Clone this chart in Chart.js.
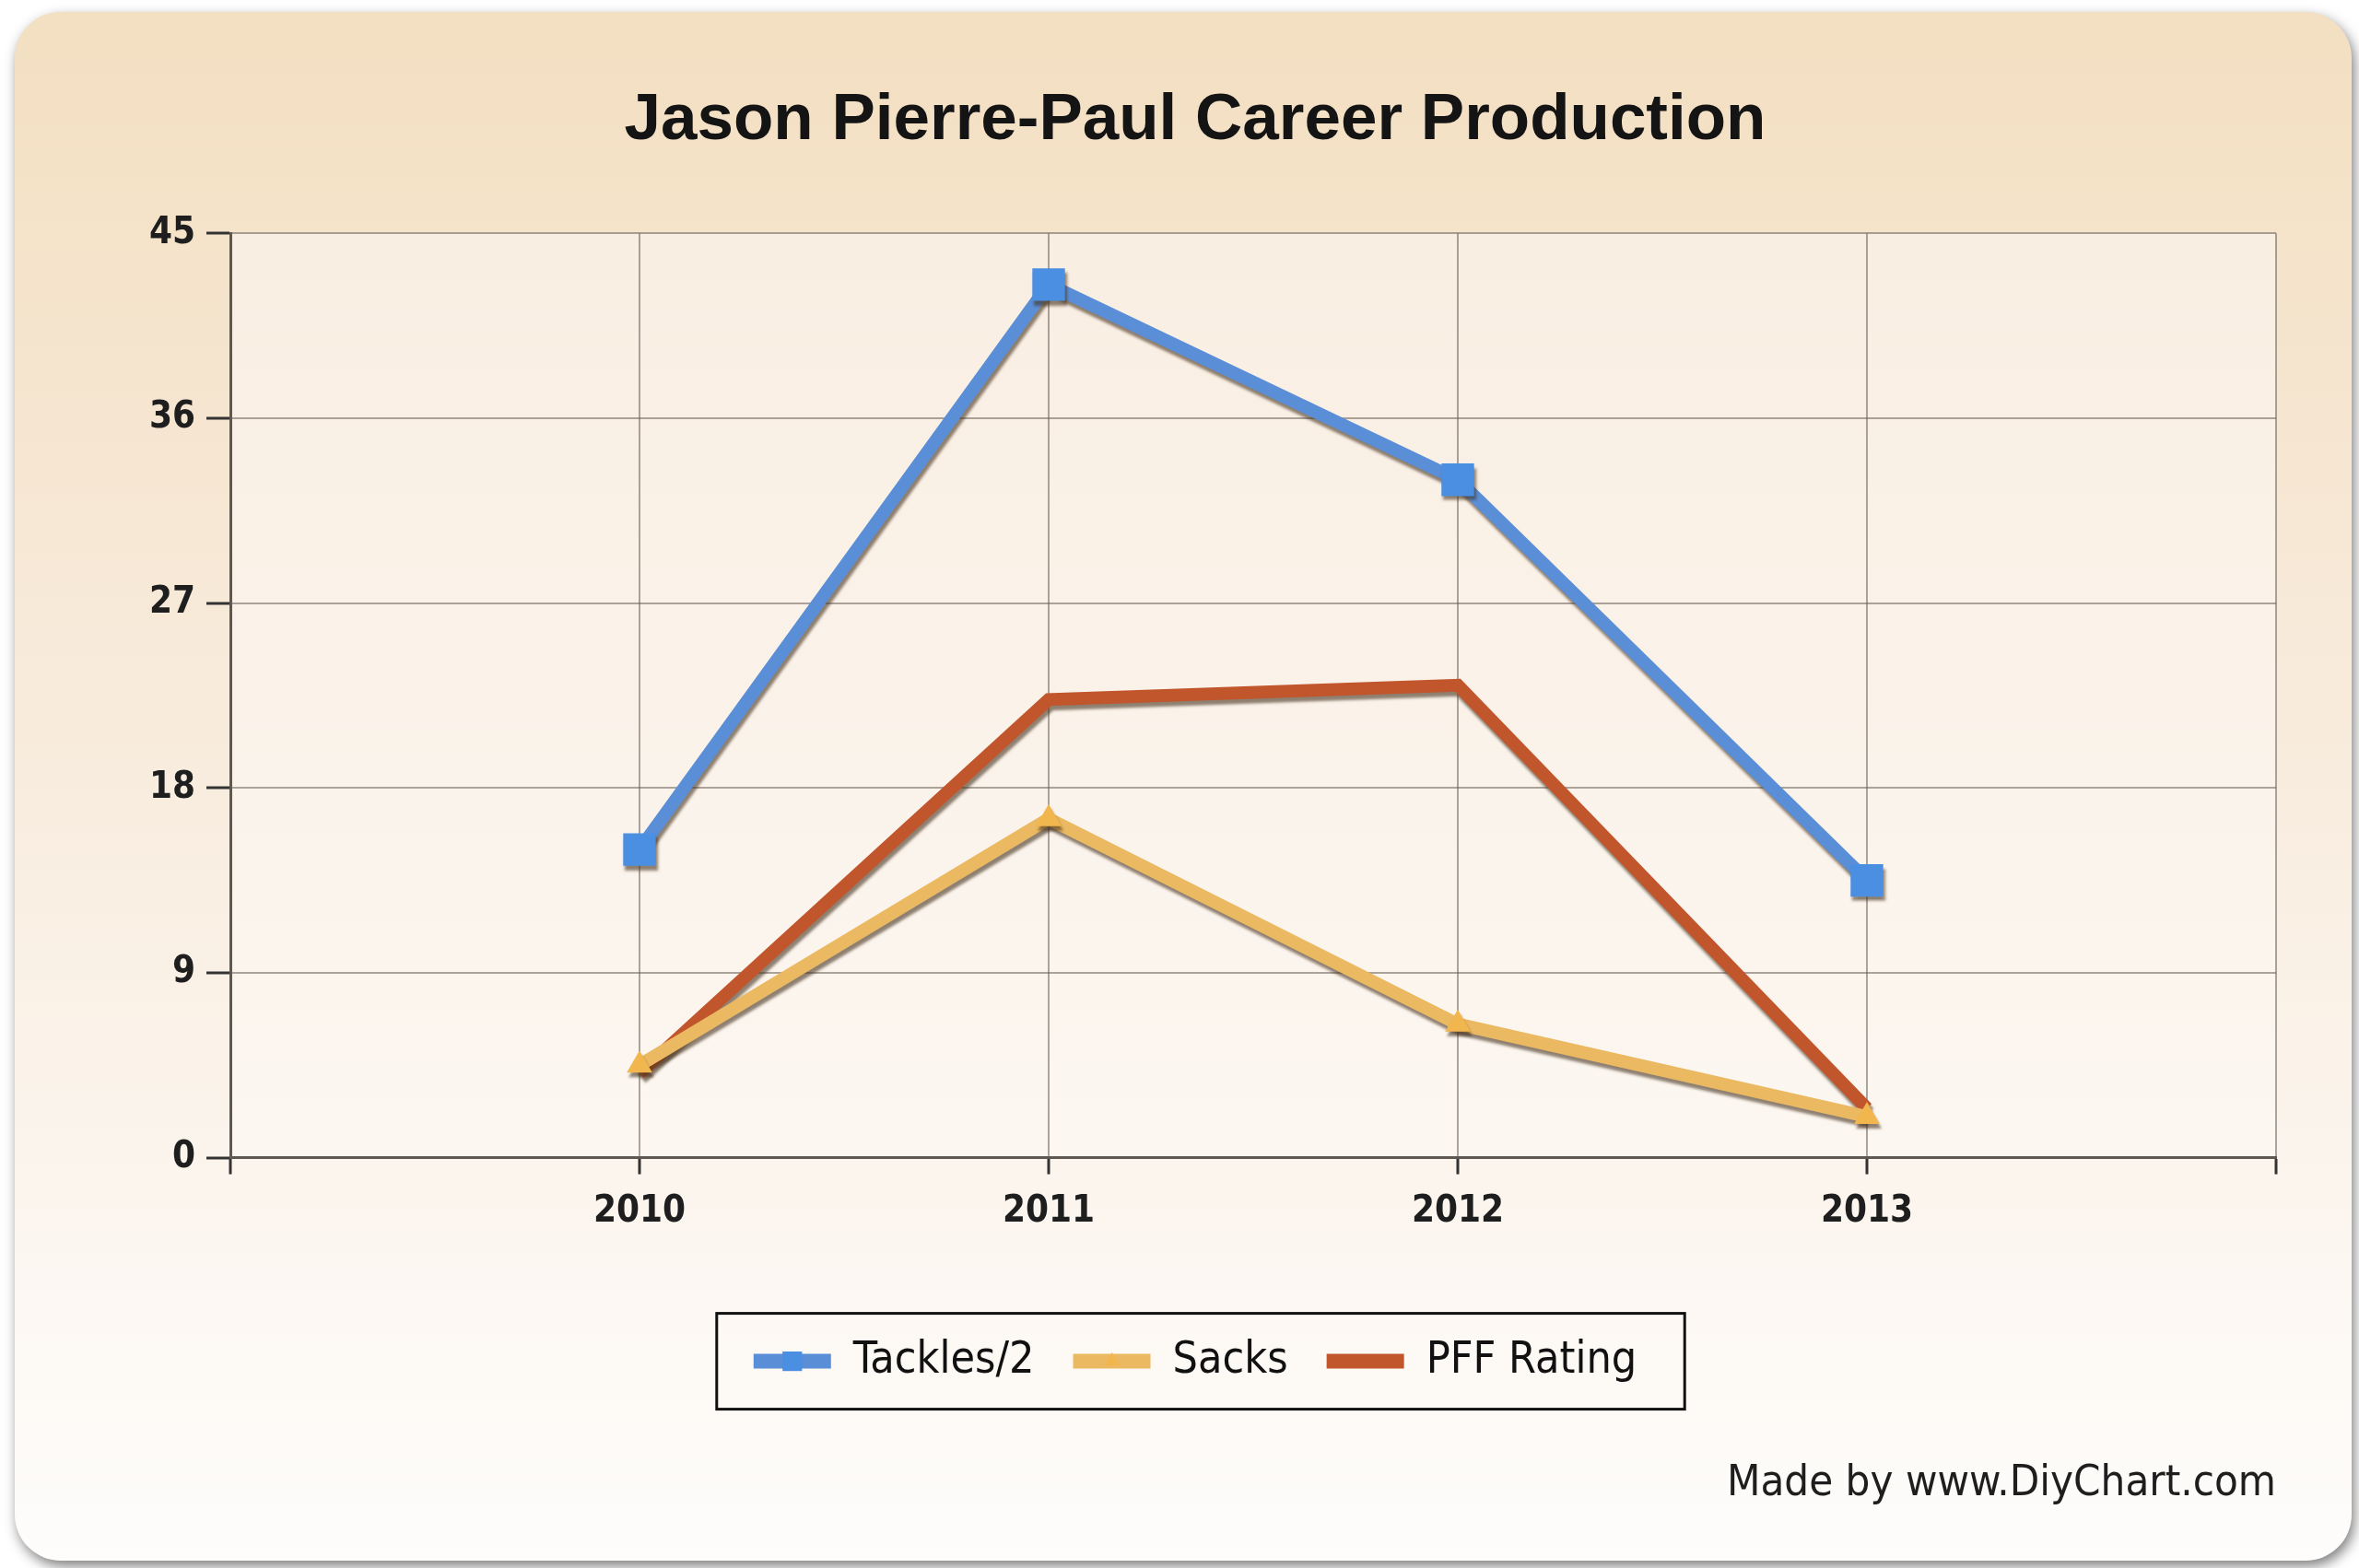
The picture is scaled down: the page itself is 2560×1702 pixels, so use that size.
<!DOCTYPE html>
<html>
<head>
<meta charset="utf-8">
<title>Jason Pierre-Paul Career Production</title>
<script src="https://cdn.jsdelivr.net/npm/chart.js@4.4.1/dist/chart.umd.min.js"></script>
<style>
  html, body { margin: 0; padding: 0; background: #ffffff; }
  #wrap { width: 2560px; height: 1702px; }
</style>
</head>
<body>
<div id="wrap"><canvas id="chart"></canvas></div>
<script>
// values
const years = [2010, 2011, 2012, 2013];
const tackles = [15, 42.5, 33, 13.5];      // Tackles/2
const sacks = [4.5, 16.5, 6.5, 2];
const pffRating = [4.1, 22.3, 23, 2.4];
const yTicks = [0, 9, 18, 27, 36, 45];

const seriesNames = ['Tackles/2', 'Sacks', 'PFF Rating'];
const seriesColors = ['#5a8fd8', '#ebb961', '#c1552c'];

const condensed = "'DejaVu Sans Condensed', 'DejaVu Sans', sans-serif";

const toPoints = (values) => years.map((yr, i) => ({ x: yr, y: values[i] }));

// rounded card with the tan gradient, then the lighter plot area
const cardBackground = {
    id: 'cardBackground',
    beforeDraw(chart) {
        const { ctx, width, height, chartArea: a } = chart;
        ctx.save();
        ctx.fillStyle = '#ffffff';
        ctx.fillRect(0, 0, width, height);

        const x0 = 16, y0 = 13, x1 = width - 8, y1 = height - 8;
        ctx.shadowColor = 'rgba(0, 0, 0, 0.5)';
        ctx.shadowBlur = 14;
        ctx.shadowOffsetX = 3;
        ctx.shadowOffsetY = 6;
        const g = ctx.createLinearGradient(0, y0, 0, y1);
        g.addColorStop(0, '#f3dfc1');
        g.addColorStop(0.45, '#f8ebdc');
        g.addColorStop(1, '#fefdfc');
        ctx.fillStyle = g;
        ctx.beginPath();
        ctx.roundRect(x0, y0, x1 - x0, y1 - y0, 50);
        ctx.fill();

        ctx.shadowColor = 'transparent';
        const pg = ctx.createLinearGradient(0, a.top, 0, a.bottom);
        pg.addColorStop(0, '#f9eee2');
        pg.addColorStop(1, '#fcf7f1');
        ctx.fillStyle = pg;
        ctx.fillRect(a.left, a.top, a.right - a.left, a.bottom - a.top);
        ctx.restore();
    }
};

// the little drop shadow under each line
const lineShadow = {
    id: 'lineShadow',
    beforeDatasetDraw(chart) {
        const ctx = chart.ctx;
        ctx.save();
        ctx.shadowColor = 'rgba(70, 50, 30, 0.6)';
        ctx.shadowOffsetX = 2;
        ctx.shadowOffsetY = 5;
        ctx.shadowBlur = 3;
    },
    afterDatasetDraw(chart) {
        chart.ctx.restore();
    }
};

// black frame round the legend + markers on the legend lines
const legendFrame = {
    id: 'legendFrame',
    afterDraw(chart) {
        const lg = chart.legend;
        const boxes = lg.legendHitBoxes;
        if (!boxes || !boxes.length) return;
        const ctx = chart.ctx;
        const left = Math.min(...boxes.map(b => b.left));
        const right = Math.max(...boxes.map(b => b.left + b.width));
        const cy = boxes[0].top + boxes[0].height / 2;
        const boxW = lg.options.labels.boxWidth;

        ctx.save();
        ctx.strokeStyle = '#111111';
        ctx.lineWidth = 3;
        ctx.strokeRect(left - 40, cy - 52, right - left + 92, 104);

        lg.legendItems.forEach((item, i) => {
            const ds = chart.data.datasets[item.datasetIndex];
            if (!ds.pointRadius) return;
            ctx.fillStyle = ds.pointBackgroundColor;
            Chart.helpers.drawPoint(ctx, {
                pointStyle: ds.pointStyle,
                radius: ds.pointRadius * 0.6,
                rotation: 0,
                borderWidth: 0
            }, boxes[i].left + boxW / 2, cy);
        });
        ctx.restore();
    }
};

Chart.defaults.font.family = condensed;

new Chart(document.getElementById('chart'), {
    type: 'line',
    data: {
        datasets: [
            {
                label: seriesNames[0],
                data: toPoints(tackles),
                borderColor: seriesColors[0],
                backgroundColor: seriesColors[0],
                borderWidth: 14,
                pointStyle: 'rect',
                pointRadius: 25,
                pointBackgroundColor: '#4a8fe2',
                pointBorderWidth: 0
            },
            {
                label: seriesNames[1],
                data: toPoints(sacks),
                borderColor: seriesColors[1],
                backgroundColor: seriesColors[1],
                borderWidth: 14,
                pointStyle: 'triangle',
                pointRadius: 16,
                pointBackgroundColor: '#f2b64e',
                pointBorderWidth: 0
            },
            {
                label: seriesNames[2],
                data: toPoints(pffRating),
                borderColor: seriesColors[2],
                backgroundColor: seriesColors[2],
                borderWidth: 14,
                pointRadius: 0
            }
        ]
    },
    options: {
        responsive: true,
        maintainAspectRatio: false,
        animation: false,
        devicePixelRatio: 1,
        layout: { padding: { left: 124, right: 90, top: 0, bottom: 35 } },
        elements: { line: { tension: 0 } },
        scales: {
            x: {
                type: 'linear',
                min: years[0] - 1,
                max: years[years.length - 1] + 1,
                afterBuildTicks: (axis) => {
                    axis.ticks = [years[0] - 1, ...years, years[years.length - 1] + 1].map(v => ({ value: v }));
                },
                afterFit: (scale) => { scale.height = 155; },
                ticks: {
                    callback: (v) => (years.includes(v) ? String(v) : ''),
                    color: '#1e1e1e',
                    font: { size: 40, weight: 'bold' },
                    padding: 17,
                    maxRotation: 0
                },
                grid: {
                    color: 'rgba(105, 95, 85, 0.55)',
                    lineWidth: 2,
                    tickColor: '#333333',
                    tickLength: 18,
                    tickWidth: 3
                },
                border: { color: '#5e5852', width: 3 }
            },
            y: {
                min: 0,
                max: 45,
                afterBuildTicks: (axis) => {
                    axis.ticks = yTicks.map(v => ({ value: v }));
                },
                afterFit: (scale) => { scale.width = 126; },
                ticks: {
                    color: '#1e1e1e',
                    font: { size: 40, weight: 'bold' },
                    padding: 12
                },
                grid: {
                    color: 'rgba(105, 95, 85, 0.55)',
                    lineWidth: 2,
                    tickColor: '#333333',
                    tickLength: 26,
                    tickWidth: 3
                },
                border: { color: '#5e5852', width: 3 }
            }
        },
        plugins: {
            title: {
                display: true,
                text: 'Jason Pierre-Paul Career Production',
                color: '#141414',
                font: { family: "'Liberation Sans', Arial, sans-serif", size: 71, weight: 'bold' },
                padding: { top: 89, bottom: 79 }
            },
            subtitle: {
                display: true,
                position: 'bottom',
                align: 'end',
                text: 'Made by www.DiyChart.com',
                color: '#1e1e1e',
                font: { size: 47 },
                padding: { top: 71, bottom: 28 }
            },
            legend: {
                position: 'bottom',
                labels: {
                    boxWidth: 84,
                    boxHeight: 16,
                    padding: 42,
                    color: '#111111',
                    font: { size: 48 },
                    generateLabels: (chart) => {
                        const items = Chart.defaults.plugins.legend.labels.generateLabels(chart);
                        items.forEach(item => { item.lineWidth = 0; });
                        return items;
                    }
                }
            },
            tooltip: { enabled: false }
        }
    },
    plugins: [cardBackground, lineShadow, legendFrame]
});
</script>
</body>
</html>
